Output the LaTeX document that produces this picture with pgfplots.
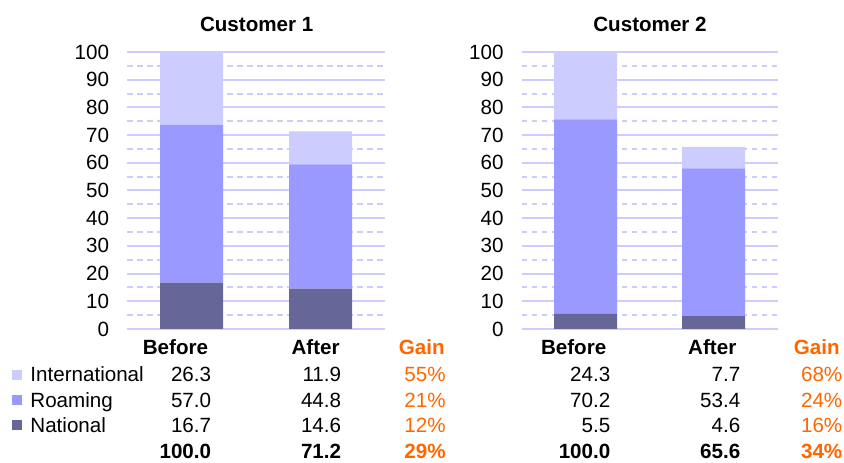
\documentclass[border=0pt]{standalone}
\usepackage{pgfplots}
\pgfplotsset{compat=1.18}
\usepackage{fontspec}
\setmainfont{Liberation Sans}
\definecolor{intl}{HTML}{CCCCFF}
\definecolor{roam}{HTML}{9999FF}
\definecolor{natl}{HTML}{666699}
\definecolor{gridc}{HTML}{CCCCFF}
\definecolor{gain}{HTML}{FF6600}
\newcommand\fs{\fontsize{10.3bp}{12bp}\selectfont}
\pgfplotsset{cust/.style={
 scale only axis, width=129bp, height=138.5bp, anchor=south west,
 xmin=-0.5, xmax=1.5, ymin=0, ymax=100,
 ybar stacked, bar width=31.5bp,
 xtick=\empty, ytick={0,10,...,100}, minor ytick={5,15,...,95},
 ymajorgrids, yminorgrids,
 major grid style={draw=gridc, line width=1bp},
 minor grid style={draw=gridc, line width=1bp, dash pattern=on 2.8bp off 2.2bp},
 axis line style={draw=none},
 major tick length=0pt, minor tick length=0pt,
 tick style={draw=none},
 yticklabel style={font=\fs, inner sep=0pt, xshift=-8.8bp},
 /pgf/number format/assume math mode=true,
 clip=false,
}}
\pgfplotstableread{
x nat roam intl
0 16.7 57.0 26.3
1 14.6 44.8 11.9
}\custone
\pgfplotstableread{
x nat roam intl
0 5.5 70.2 24.3
1 4.6 53.4 7.7
}\custtwo
\begin{document}
\begin{tikzpicture}[x=0.5bp,y=0.5bp]
\useasboundingbox (0,0) rectangle (844,463);
\begin{axis}[cust, at={(63.5bp,67bp)}]
\addplot[fill=natl, draw=none] table[x=x,y=nat]{\custone};
\addplot[fill=roam, draw=none] table[x=x,y=roam]{\custone};
\addplot[fill=intl, draw=none] table[x=x,y=intl]{\custone};
\end{axis}
\begin{axis}[cust, at={(260.75bp,67bp)}, width=128bp]
\addplot[fill=natl, draw=none] table[x=x,y=nat]{\custtwo};
\addplot[fill=roam, draw=none] table[x=x,y=roam]{\custtwo};
\addplot[fill=intl, draw=none] table[x=x,y=intl]{\custtwo};
\end{axis}
\tikzset{t/.style={inner sep=0pt, font=\fs, anchor=base east}}
% titles
\node[inner sep=0pt, font=\fs\bfseries, anchor=base] at (256.7,463-31.5) {Customer 1};
\node[inner sep=0pt, font=\fs\bfseries, anchor=base] at (650,463-31.5) {Customer 2};
% legend
\fill[intl] (12,463-380) rectangle (21.5,463-370.5);
\fill[roam] (12,463-405) rectangle (21.5,463-395.5);
\fill[natl] (12,463-430) rectangle (21.5,463-420.5);
\node[t, anchor=base west] at (30,463-382) {International};
\node[t, anchor=base west] at (30,463-408) {Roaming};
\node[t, anchor=base west] at (30,463-433) {National};
% panel 1 table
\node[t, font=\fs\bfseries] at (208.5,463-355) {Before};
\node[t, font=\fs\bfseries] at (340,463-355) {After};
\node[t, font=\fs\bfseries, text=gain] at (445,463-355) {Gain};
\node[t] at (211.5,463-382) {26.3};
\node[t] at (211.5,463-408) {57.0};
\node[t] at (211.5,463-433) {16.7};
\node[t] at (341.5,463-382) {11.9};
\node[t] at (341.5,463-408) {44.8};
\node[t] at (341.5,463-433) {14.6};
\node[t, text=gain] at (446,463-382) {55\%};
\node[t, text=gain] at (446,463-408) {21\%};
\node[t, text=gain] at (446,463-433) {12\%};
\node[t, font=\fs\bfseries] at (211.5,463-459) {100.0};
\node[t, font=\fs\bfseries] at (341.5,463-459) {71.2};
\node[t, font=\fs\bfseries, text=gain] at (446,463-459) {29\%};
% panel 2 table
\node[t, font=\fs\bfseries] at (606.7,463-355) {Before};
\node[t, font=\fs\bfseries] at (736.7,463-355) {After};
\node[t, font=\fs\bfseries, text=gain] at (840,463-355) {Gain};
\node[t] at (610.7,463-382) {24.3};
\node[t] at (610.7,463-408) {70.2};
\node[t] at (610.7,463-433) {5.5};
\node[t] at (740.7,463-382) {7.7};
\node[t] at (740.7,463-408) {53.4};
\node[t] at (740.7,463-433) {4.6};
\node[t, text=gain] at (842.7,463-382) {68\%};
\node[t, text=gain] at (842.7,463-408) {24\%};
\node[t, text=gain] at (842.7,463-433) {16\%};
\node[t, font=\fs\bfseries] at (610.7,463-459) {100.0};
\node[t, font=\fs\bfseries] at (740.7,463-459) {65.6};
\node[t, font=\fs\bfseries, text=gain] at (842.7,463-459) {34\%};
\end{tikzpicture}
\end{document}
